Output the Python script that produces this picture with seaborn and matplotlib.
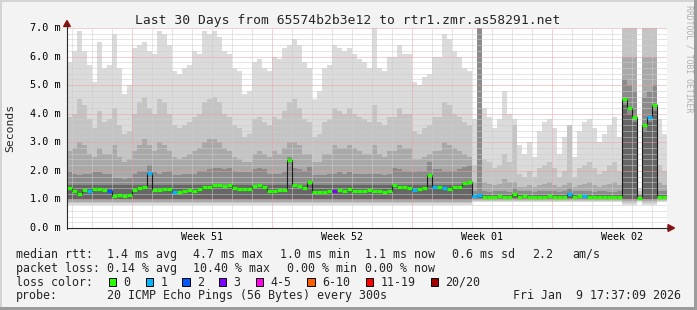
import numpy as np
import pandas as pd
import matplotlib
matplotlib.use("Agg")
import matplotlib.pyplot as plt
import matplotlib.transforms as mtransforms
from matplotlib.patches import Rectangle, Polygon
from matplotlib.lines import Line2D
import seaborn as sns

# ---------------- data (30 days, 6-hour bins, values in ms) ----------------
bin_days = 0.25

median = [
    1.39, 1.30, 1.20, 1.33, 1.28, 1.35, 1.36, 1.34, 1.28, 1.13, 1.14, 1.12, 1.15,
    1.33, 1.40, 1.43, 1.94, 1.33, 1.32, 1.35, 1.38, 1.26, 1.25,
    1.28, 1.32, 1.30, 1.38, 1.42, 1.45, 1.50, 1.52, 1.48, 1.50,
    1.40, 1.36, 1.38, 1.35, 1.47, 1.50, 1.45, 1.28,
    1.28, 1.32, 1.34, 2.38, 1.52, 1.48, 1.40, 1.60, 1.26, 1.25,
    1.27, 1.28, 1.30, 1.33, 1.30, 1.35, 1.30, 1.28, 1.30, 1.32,
    1.28, 1.30, 1.26, 1.30, 1.50, 1.45, 1.42, 1.40,
    1.33, 1.38, 1.40, 1.85, 1.45, 1.45, 1.40, 1.38, 1.42, 1.45, 1.58, 1.62, 1.13, 1.14,
    1.10, 1.09, 1.10, 1.11, 1.10, 1.09, 1.20,
    1.10, 1.11, 1.10, 1.09, 1.10, 1.10, 1.11, 1.10, 1.09, 1.10, 1.20,
    1.10, 1.11, 1.12, 1.10, 1.09, 1.10, 1.10, 1.08, 1.09, 1.10,
    4.50, 4.20, 3.90, 1.05, 3.60, 3.90, 4.30, 1.10, 1.10,
]

loss = [
    0, 0, 0, 0, 1, 0, 0, 0, 2, 0, 0, 0, 0, 0, 0, 0, 1, 0, 0, 0,
    0, 1, 0, 0, 0, 0, 0, 0, 0, 0, 0, 0, 0, 0, 0, 0, 0, 0, 0, 0,
    0, 0, 0, 0, 0, 0, 0, 0, 0, 0, 0, 0, 0, 3, 0, 0, 0, 0, 0, 0,
    0, 0, 0, 0, 0, 0, 0, 0, 0, 1, 0, 0, 0, 1, 0, 1, 0, 0, 0, 0,
    0, 1, 1, 0, 0, 0, 0, 0, 0, 0, 0, 0, 0, 0, 0, 0, 0, 0, 0, 0,
    1, 0, 0, 1, 0, 0, 0, 0, 0, 0, 0, 0, 0, 0, 0, 0, 1, 0, 0, 0,
]

smoke_top = [
    5.8, 6.2, 6.9, 6.2, 5.7, 5.1, 6.5, 5.6, 5.7, 6.8, 5.6, 4.7, 5.0,
    6.3, 6.4, 6.5, 6.2, 6.1, 6.9, 6.8, 6.4, 5.5, 5.4,
    5.6, 5.7, 6.2, 6.1, 6.9, 6.8, 6.9, 6.7, 6.2, 6.1,
    5.6, 5.5, 4.7, 4.8, 5.8, 5.9, 5.6, 5.5,
    6.0, 5.9, 6.3, 6.4, 6.6, 6.4, 5.8, 5.6, 4.5, 4.8,
    5.6, 5.7, 6.4, 6.3, 6.2, 6.3, 6.1, 5.9, 5.8, 5.6,
    7.0, 5.6, 5.5, 6.0, 6.0, 6.4, 6.1, 6.1,
    5.1, 5.0, 5.3, 5.4, 6.0, 6.0, 6.8, 6.6, 6.2, 6.0, 5.6, 5.5, 3.8, 7.0,
    4.2, 3.9, 3.5, 3.8, 4.8, 4.0, 3.8, 2.9, 2.6, 3.0,
    2.5, 3.4, 3.7, 3.8, 3.5, 2.6, 3.2, 3.6, 2.5, 3.4,
    3.7, 3.8, 3.5, 3.0, 3.3, 3.6, 3.9, 3.2,
    7.0, 7.0, 7.0, 1.4, 7.0, 7.0, 7.0, 3.8, 3.3,
]

smoke_p90 = [
    3.9, 4.0, 4.5, 4.3, 3.8, 3.5, 4.1, 3.7, 3.8, 4.2, 3.6, 3.3, 3.4,
    4.0, 4.4, 4.6, 4.2, 4.0, 4.5, 4.4, 4.0, 3.6, 3.5,
    3.6, 3.7, 3.9, 4.0, 4.4, 4.5, 4.6, 4.4, 4.0, 3.9,
    3.6, 3.5, 3.2, 3.3, 3.8, 3.9, 3.7, 3.6,
    3.9, 3.8, 4.1, 4.4, 4.5, 4.2, 3.8, 3.7, 3.2, 3.3,
    3.7, 3.8, 4.2, 4.1, 4.0, 4.2, 4.0, 3.9, 3.8, 3.7,
    4.3, 3.7, 3.6, 3.9, 3.9, 4.2, 4.0, 4.0,
    3.4, 3.3, 3.5, 3.6, 3.9, 3.9, 4.4, 4.3, 4.0, 3.9, 3.7, 3.6, 2.2, 7.0,
    2.4, 2.3, 2.1, 2.2, 2.6, 2.3, 3.6, 1.9, 1.8, 2.0,
    1.8, 2.1, 2.2, 2.3, 2.1, 1.8, 2.0, 3.6, 1.8, 2.1,
    2.2, 2.3, 2.1, 1.9, 2.0, 2.2, 2.3, 2.0,
    7.0, 7.0, 7.0, 1.3, 7.0, 7.0, 7.0, 2.2, 2.0,
]

smoke_p75 = [
    2.7, 2.8, 3.0, 2.9, 2.6, 2.5, 2.8, 2.6, 2.6, 2.9, 2.5, 2.3, 2.4,
    2.7, 2.9, 3.1, 2.9, 2.7, 3.0, 2.9, 2.7, 2.5, 2.4,
    2.5, 2.6, 2.7, 2.8, 3.0, 3.1, 3.1, 3.0, 2.8, 2.7,
    2.5, 2.4, 2.3, 2.3, 2.6, 2.7, 2.6, 2.5,
    2.7, 2.6, 2.8, 3.0, 3.0, 2.9, 2.6, 2.6, 2.3, 2.3,
    2.6, 2.6, 2.9, 2.8, 2.8, 2.9, 2.8, 2.7, 2.6, 2.6,
    2.9, 2.6, 2.5, 2.7, 2.7, 2.9, 2.8, 2.8,
    2.4, 2.4, 2.5, 2.6, 2.7, 2.7, 3.0, 2.9, 2.8, 2.7, 2.6, 2.5, 1.6, 7.0,
    1.6, 1.55, 1.5, 1.55, 1.7, 1.6, 1.6, 1.45, 1.45, 1.5,
    1.45, 1.5, 1.55, 1.6, 1.5, 1.45, 1.5, 1.6, 1.45, 1.5,
    1.55, 1.6, 1.5, 1.45, 1.5, 1.55, 1.6, 1.5,
    6.0, 6.0, 6.0, 1.2, 6.0, 6.0, 6.0, 1.6, 1.5,
]

smoke_core = [
    1.95, 1.90, 1.85, 1.90, 1.90, 1.95, 1.95, 1.90, 1.90, 1.75, 1.75, 1.70, 1.75,
    1.90, 2.00, 2.00, 2.20, 1.95, 1.90, 1.95, 2.00, 1.85, 1.85,
    1.90, 1.90, 1.90, 2.00, 2.00, 2.05, 2.10, 2.10, 2.05, 2.10,
    2.00, 1.95, 1.95, 1.95, 2.05, 2.10, 2.05, 1.90,
    1.90, 1.90, 1.95, 2.50, 2.10, 2.05, 2.00, 2.15, 1.85, 1.85,
    1.85, 1.90, 1.90, 1.95, 1.90, 1.95, 1.90, 1.90, 1.90, 1.90,
    1.90, 1.90, 1.85, 1.90, 2.10, 2.05, 2.00, 2.00,
    1.95, 2.00, 2.00, 2.30, 2.05, 2.05, 2.00, 2.00, 2.00, 2.05, 2.15, 2.20, 1.30, 7.00,
    1.28, 1.27, 1.28, 1.29, 1.28, 1.27, 1.40, 1.28, 1.29, 1.28,
    1.27, 1.28, 1.28, 1.29, 1.28, 1.27, 1.28, 1.40, 1.28, 1.29,
    1.30, 1.28, 1.27, 1.28, 1.28, 1.26, 1.27, 1.28,
    5.20, 5.00, 4.80, 1.15, 4.60, 4.80, 5.00, 1.28, 1.28,
]

smoke_inner = ([1.52] * 81 + [1.17] * 30 + [4.3, 4.0, 3.7] + [1.10]
               + [3.4, 3.7, 4.1] + [1.17] * 2)

# regime of each bin: busy (A), calm (B), high-latency burst (C)
regime = ["A"] * 81 + ["B"] * 30 + ["C"] * 3 + ["B"] + ["C"] * 3 + ["B"] * 2
# lower edges of the five smoke layers per regime
regime_low = {
    "A": [0.80, 0.86, 0.92, 0.97, 1.02],
    "B": [0.92, 0.96, 0.99, 1.02, 1.05],
    "C": [0.82, 0.88, 0.93, 0.98, 1.02],
}

y_ticks = [0, 1, 2, 3, 4, 5, 6, 7]
week_starts = [3.25, 10.25, 17.25, 24.25]
week_labels = ["Week 51", "Week 52", "Week 01", "Week 02"]

loss_labels = ["0", "1", "2", "3", "4-5", "6-10", "11-19", "20/20"]
loss_colors = ["#26ff00", "#00b8ff", "#0059ff", "#7e00ff",
               "#ff00ea", "#ff5e00", "#ff0000", "#a10000"]

title = "Last 30 Days from 65574b2b3e12 to rtr1.zmr.as58291.net"
stats_rtt = ["median rtt:", "1.4 ms avg", "4.7 ms max", "1.0 ms min",
             "1.1 ms now", "0.6 ms sd", "2.2", "am/s"]
stats_loss = ["packet loss:", "0.14 % avg", "10.40 % max", "0.00 % min", "0.00 % now"]
probe_text = ["probe:", "20 ICMP Echo Pings (56 Bytes) every 300s",
              "Fri Jan  9 17:37:09 2026"]

# ---------------- style ----------------
sns.set_theme(style="white")
plt.rcParams["font.family"] = ["DejaVu Sans Mono"]

W, H = 697, 310
BG = "#f3f3f3"
fig = plt.figure(figsize=(W / 100, H / 100), dpi=100, facecolor=BG)


def fx(x):
    return x / W


def fy(y):
    return 1 - y / H


ax = fig.add_axes([fx(67), fy(228), (667 - 67) / W, (228 - 28) / H])
ax.set_facecolor("white")
ax.set_xlim(0, 30)
ax.set_ylim(0, 7)
for s in ax.spines.values():
    s.set_visible(False)

n = len(median)
edges = np.arange(n + 1) * bin_days


def ext(a):
    a = np.asarray(a, dtype=float)
    return np.append(a, a[-1])


layer_colors = ["#dbdbdb", "#c4c4c4", "#a9a9a9", "#8b8b8b", "#666666"]
layer_tops = [smoke_top, smoke_p90, smoke_p75, smoke_core, smoke_inner]
for k, (hi, col) in enumerate(zip(layer_tops, layer_colors)):
    lo = [regime_low[r][k] for r in regime]
    ax.fill_between(edges, ext(lo), ext(hi), step="post", color=col,
                    lw=0, zorder=1, antialiased=False)

# grid (dotted, drawn over the smoke as rrdtool does)
GRID = "#cdcdcd"
MGRID = "#e8a0a0"
dots = (0, (1.0, 1.0))
for d in np.arange(0.25, 30, 1.0):
    major = any(abs(d - m) < 1e-6 for m in week_starts)
    ax.axvline(d, color=MGRID if major else GRID, lw=0.72, ls=dots, zorder=2)
for v in np.arange(0.2, 7.01, 0.2):
    major = abs(v - round(v)) < 1e-6
    ax.axhline(v, color=MGRID if major else GRID, lw=0.72, ls=dots,
               zorder=2, clip_on=False)

# median line
df = pd.DataFrame({"t": edges, "rtt": ext(median)})
sns.lineplot(data=df, x="t", y="rtt", ax=ax, drawstyle="steps-post",
             color="#1c1c1c", lw=0.8, zorder=3, estimator=None)


def loss_class(c):
    if c <= 3:
        return c
    if c <= 5:
        return 4
    if c <= 10:
        return 5
    if c <= 19:
        return 6
    return 7


seg_colors = [loss_colors[loss_class(c)] for c in loss]
ax.hlines(median, edges[:-1], edges[1:], colors=seg_colors, lw=2.3,
          zorder=4, capstyle="butt")

ax.set_xlabel("")
ax.set_ylabel("")
ax.set_xticks([])
ax.set_yticks([])

# axes lines + arrows
AX = "#2a2a2a"
fig.add_artist(Line2D([fx(67), fx(67)], [fy(228.5), fy(24)], color=AX, lw=0.8))
fig.add_artist(Line2D([fx(66.5), fx(670)], [fy(228), fy(228)], color=AX, lw=0.8))
ARROW = "#8b1111"
fig.add_artist(Polygon([(fx(63.6), fy(26.5)), (fx(70.4), fy(26.5)), (fx(67), fy(20.5))],
                       closed=True, color=ARROW, transform=fig.transFigure))
fig.add_artist(Polygon([(fx(668), fy(224.6)), (fx(668), fy(231.4)), (fx(674.5), fy(228))],
                       closed=True, color=ARROW, transform=fig.transFigure))

# y tick labels
ytr = mtransforms.blended_transform_factory(fig.transFigure, ax.transData)
for v in y_ticks:
    ax.text(fx(60.5), v, f"{v:.1f} m", transform=ytr, ha="right", va="center",
            fontsize=7.3, color="black")

# week labels
xtr = mtransforms.blended_transform_factory(ax.transData, fig.transFigure)
for m, lab in zip(week_starts, week_labels):
    ax.text(m + 3.5, fy(240.3), lab, transform=xtr, ha="center", va="baseline",
            fontsize=7.2, color="black")

# title, axis label, watermark
fig.text(fx(347.5), fy(24.2), title, ha="center", va="baseline", fontsize=9.35)
fig.text(fx(10.5), fy(128), "Seconds", rotation=90, ha="center", va="center",
         fontsize=8.2)
fig.text(fx(688.5), fy(59), "RRDTOOL / TOBI OETIKER", rotation=270, ha="center",
         va="center", fontsize=5.9, color="#b0b0b0")

# legend
LFS = 8.35
rtt_x = [16, 107, 193.3, 280.3, 365, 451.7, 531.7, 572.7]
for txt, x in zip(stats_rtt, rtt_x):
    fig.text(fx(x), fy(257.8), txt, ha="left", va="baseline", fontsize=LFS)
loss_x = [16, 107, 193.3, 287.3, 365]
for txt, x in zip(stats_loss, loss_x):
    fig.text(fx(x), fy(271.7), txt, ha="left", va="baseline", fontsize=LFS)
fig.text(fx(16), fy(285.6), "loss color:", ha="left", va="baseline", fontsize=LFS)
box_x = [108.7, 145.7, 182.3, 219, 255.7, 307.3, 365.7, 430.7]
for lab, col, bx in zip(loss_labels, loss_colors, box_x):
    fig.add_artist(Rectangle((fx(bx), fy(286)), 7.4 / W, 7.6 / H, facecolor=col,
                             edgecolor="black", lw=0.7, transform=fig.transFigure))
    fig.text(fx(bx + 14.5), fy(285.6), lab, ha="left", va="baseline", fontsize=LFS)
probe_x = [16, 107, 513.3]
for txt, x in zip(probe_text, probe_x):
    fig.text(fx(x), fy(299.3), txt, ha="left", va="baseline", fontsize=LFS)

# 3D border
fig.add_artist(Rectangle((0, fy(2)), 1, 2 / H, facecolor="#d4d4d4", lw=0,
                         transform=fig.transFigure))
fig.add_artist(Rectangle((0, 0), 2 / W, 1, facecolor="#d4d4d4", lw=0,
                         transform=fig.transFigure))
fig.add_artist(Rectangle((0, 0), 1, 3 / H, facecolor="#9c9c9c", lw=0,
                         transform=fig.transFigure))
fig.add_artist(Rectangle((fx(694), 0), 3 / W, 1, facecolor="#9c9c9c", lw=0,
                         transform=fig.transFigure))

fig.savefig("out.png", dpi=100, facecolor=BG)
